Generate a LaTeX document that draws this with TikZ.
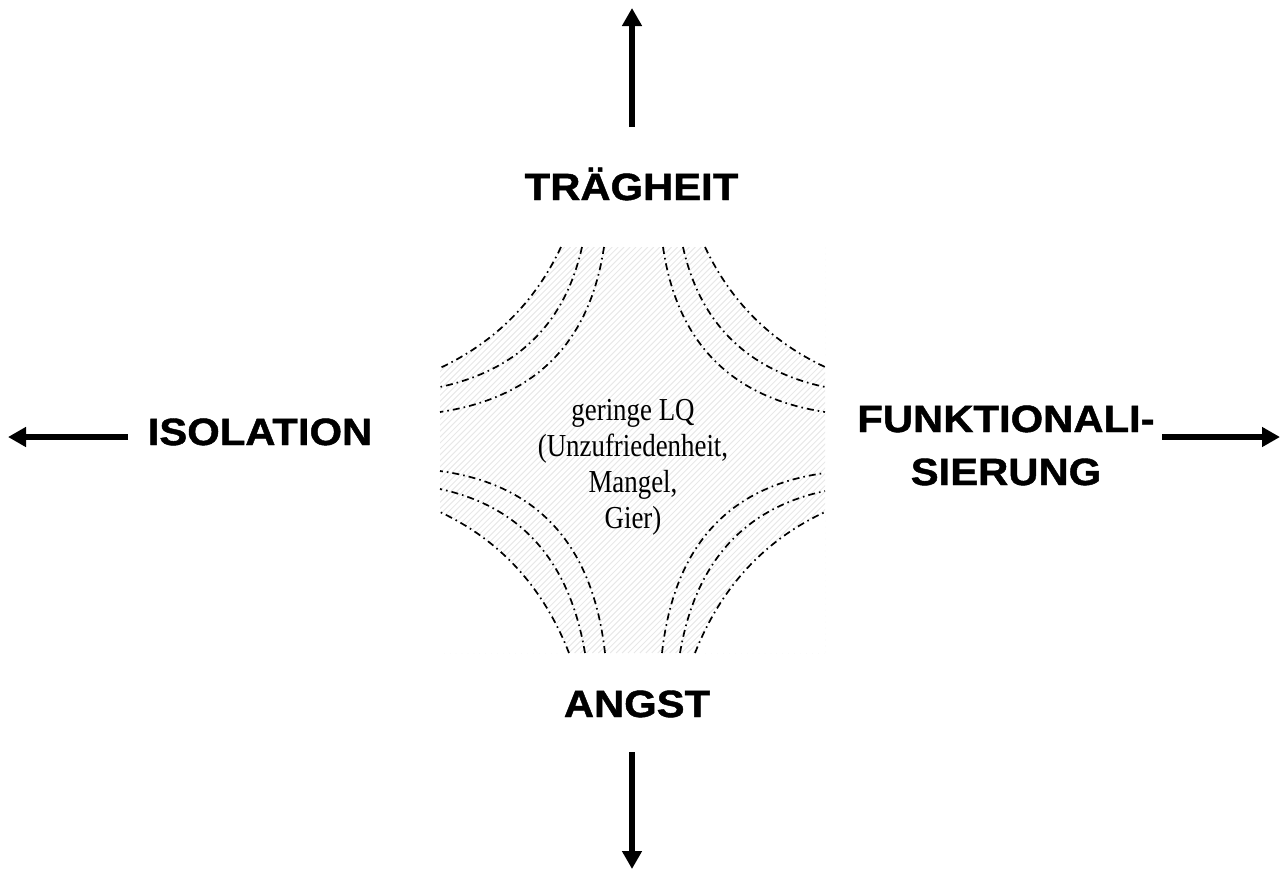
\documentclass[tikz,border=0pt]{standalone}
\usepackage{fontspec}
\setmainfont{Liberation Serif}
\newfontfamily\lblfont[FakeStretch=1.1, FakeBold=1.2]{Liberation Sans Bold}
\newfontfamily\ctrfont[FakeStretch=0.84]{Liberation Serif}
\usetikzlibrary{arrows.meta}
% corner arc: #1 cx, #2 cy, #3 sx, #4 sy, #5 a, #6 b, #7 k, #8 style
\newcommand\carc[8]{\draw[#8] ({#1+#3*#5},{#2}) .. controls ({#1+#3*#5*(1-2/3*(1-#7))},{#2+#4*2/3*#7*#6}) and ({#1+#3*2/3*#7*#5},{#2+#4*#6*(1-2/3*(1-#7))}) .. ({#1},{#2+#4*#6});}
\newcommand\cwhite[7]{\fill[white] ({#1},{#2}) -- ({#1+#3*#5},{#2}) .. controls ({#1+#3*#5*(1-2/3*(1-#7))},{#2+#4*2/3*#7*#6}) and ({#1+#3*2/3*#7*#5},{#2+#4*#6*(1-2/3*(1-#7))}) .. ({#1},{#2+#4*#6}) -- cycle;}
\tikzset{
  lbl/.style={font=\lblfont\fontsize{38}{53}\selectfont, inner sep=0pt, anchor=base},
  ctr/.style={font=\ctrfont\fontsize{32}{36}\selectfont, inner sep=0pt, align=center, anchor=base},
  bigarrow/.style={line width=6.5pt, -{Triangle[length=18pt,width=19pt]}},
  dd/.style={line width=1.7pt, dash pattern=on 7pt off 4pt on 1.6pt off 4pt},
  hatchline/.style={line width=1pt, black!9}
}
\begin{document}
\begin{tikzpicture}[x=1pt,y=-1pt]
\useasboundingbox (0,0) rectangle (1285,871);
% hatched area
\begin{scope}
  \clip (440,247) rectangle (825,653);
  \foreach \i in {0,...,136} \draw[hatchline] ({34+\i*5.94},653) -- ++(406,-406);
\end{scope}
\cwhite{440}{247}{1}{1}{121}{121}{0.68}
\cwhite{825}{247}{-1}{1}{120}{120}{0.68}
\cwhite{440}{653}{1}{-1}{129}{141}{0.70}
\cwhite{825}{653}{-1}{-1}{130}{141}{0.70}
% dash-dot arcs
\carc{440}{247}{1}{1}{121}{121}{0.68}{dd}
\carc{440}{247}{1}{1}{142}{140}{0.82}{dd}
\carc{440}{247}{1}{1}{164}{165}{0.87}{dd}
\carc{825}{247}{-1}{1}{120}{120}{0.68}{dd}
\carc{825}{247}{-1}{1}{142}{140}{0.82}{dd}
\carc{825}{247}{-1}{1}{162}{165}{0.87}{dd}
\carc{440}{653}{1}{-1}{129}{141}{0.70}{dd}
\carc{440}{653}{1}{-1}{145}{164}{0.84}{dd}
\carc{440}{653}{1}{-1}{165}{182}{0.89}{dd}
\carc{825}{653}{-1}{-1}{130}{141}{0.70}{dd}
\carc{825}{653}{-1}{-1}{145}{162}{0.84}{dd}
\carc{825}{653}{-1}{-1}{163}{180}{0.89}{dd}
% texts (base anchor = baseline of the last line)
\node[ctr] (lq) at (633,528) {geringe LQ\\(Unzufriedenheit,\\Mangel,\\Gier)};
\node[lbl] (trag) at (631.5,200) {TRÄGHEIT};
\node[lbl] (iso) at (260,445) {ISOLATION};
\node[lbl, align=center] (funk) at (1006,485) {FUNKTIONALI-\\SIERUNG};
\node[lbl] (angst) at (637,717) {ANGST};
% arrows
\coordinate (tA) at (632,127); \coordinate (tB) at (632,8);
\coordinate (lA) at (128,437); \coordinate (lB) at (8,437);
\coordinate (rA) at (1162,437); \coordinate (rB) at (1280,437);
\coordinate (bA) at (632,752); \coordinate (bB) at (632,869);
\draw[bigarrow] (tA) -- (tB);
\draw[bigarrow] (lA) -- (lB);
\draw[bigarrow] (rA) -- (rB);
\draw[bigarrow] (bA) -- (bB);
\end{tikzpicture}
\end{document}
